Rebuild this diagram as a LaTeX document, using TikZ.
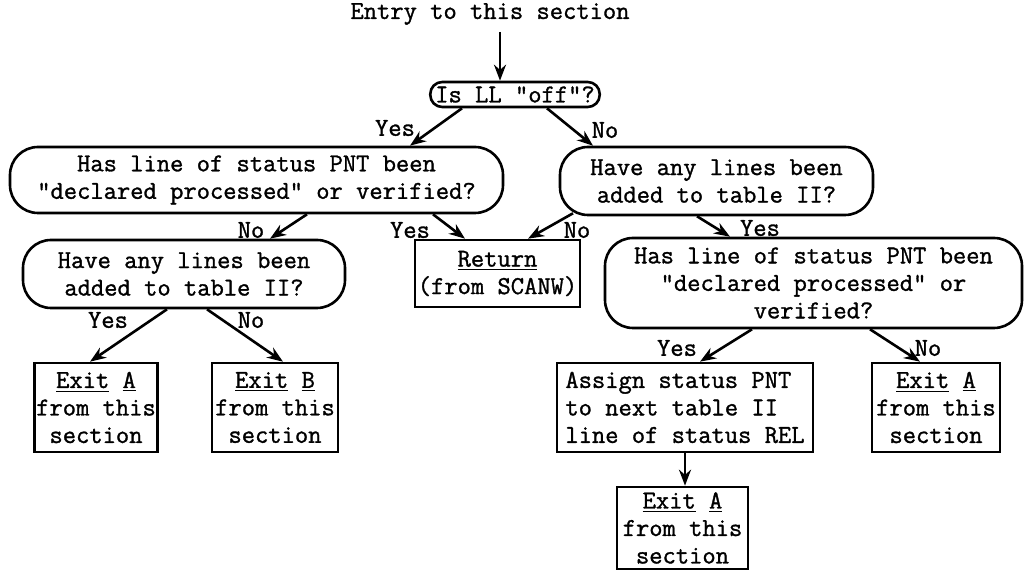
\documentclass[tikz,border=0pt]{standalone}
\usepackage{fontspec}
\usepackage{tikz}
\usetikzlibrary{arrows.meta,calc}
\newfontfamily\tw[FakeBold=1.2]{Latin Modern Mono}

\begin{document}
\begin{tikzpicture}[x=0.5pt,y=-0.5pt,
    every node/.style={font={\tw\fontsize{12.9pt}{13.75pt}\selectfont}},
    ask/.style={draw=black, line width=1.3pt, rounded corners=14pt, align=center, inner sep=1pt},
    act/.style={draw=black, line width=1.3pt, align=center, inner sep=1pt, minimum height=44.5pt},
    lbl/.style={inner sep=0pt},
    >={Stealth[length=8pt,width=6pt]}]
    \useasboundingbox (0,0) rectangle (1025,571);
    \node (entry) at (490,14) {Entry to this section};
    \node[ask, rounded corners=6pt, inner xsep=2.5pt, minimum height=12.5pt] (off) at (515,94.5) {Is LL "off"?};
    \node[ask, minimum width=246.5pt, minimum height=33pt] (pntL) at (256.5,180) {Has line of status PNT been\\"declared processed" or verified?};
    \node[ask, minimum width=156.5pt, minimum height=34pt] (addR) at (716.5,181) {Have any lines been\\added to table II?};
    \node[ask, minimum width=161pt, minimum height=34pt] (addL) at (184,274) {Have any lines been\\added to table II?};
    \node[act, minimum width=82.5pt, minimum height=33.5pt] (ret) at (497.5,273.5) {\underline{Return}\\(from SCANW)};
    \node[ask, minimum width=208.5pt, minimum height=45pt] (pntR) at (813.5,283) {Has line of status PNT been\\"declared processed" or\\verified?};
    \node[act, minimum width=61pt] (exA1) at (96,407.5) {\underline{Exit} \underline{A}\\from this\\section};
    \node[act, minimum width=63pt] (exB) at (275,407.5) {\underline{Exit} \underline{B}\\from this\\section};
    \node[act, minimum width=128pt, align=left] (asg) at (685,407.5) {Assign status PNT\\to next table II\\line of status REL};
    \node[act, minimum width=64pt] (exA2) at (936,407.5) {\underline{Exit} \underline{A}\\from this\\section};
    \node[act, minimum width=65.5pt, minimum height=41pt] (exA3) at (682.5,528) {\underline{Exit} \underline{A}\\from this\\section};
    % branch labels
    \node[lbl] (y1) at (395,128) {Yes};
    \node[lbl] (n1) at (605,130) {No};
    \node[lbl] (n2) at (251,230) {No};
    \node[lbl] (y2) at (410,230) {Yes};
    \node[lbl] (n3) at (577,230) {No};
    \node[lbl] (y3) at (760,228) {Yes};
    \node[lbl] (y4) at (108,320) {Yes};
    \node[lbl] (n4) at (251,320) {No};
    \node[lbl] (y5) at (677,348) {Yes};
    \node[lbl] (n5) at (928,348) {No};
    \path [->, line width=1.3pt] ($(entry.south)+(10,0)$) edge ($(off.north)+(-15,0)$);
    \path [->, line width=1.3pt] ($(off.south)+(-53,0)$) edge ($(pntL.north)+(153.5,0)$);
    \path [->, line width=1.3pt] ($(off.south)+(32,0)$) edge ($(addR.north)+(-123.5,0)$);
    \path [->, line width=1.3pt] ($(pntL.south)+(50.5,0)$) edge ($(addL.north)+(86,0)$);
    \path [->, line width=1.3pt] ($(pntL.south)+(176.5,0)$) edge ($(ret.north)+(-32.5,0)$);
    \path [->, line width=1.3pt] ($(addR.south)+(-143.5,-3)$) edge ($(ret.north)+(30.5,0)$);
    \path [->, line width=1.3pt] ($(addR.south)+(-19.5,0)$) edge ($(pntR.north)+(-83.5,0)$);
    \path [->, line width=1.3pt] ($(addL.south)+(-17,0)$) edge ($(exA1.north)+(-6,0)$);
    \path [->, line width=1.3pt] ($(addL.south)+(23,0)$) edge ($(exB.north)+(8,0)$);
    \path [->, line width=1.3pt] ($(pntR.south)+(-61.5,0)$) edge ($(asg.north)+(15,0)$);
    \path [->, line width=1.3pt] ($(pntR.south)+(56.5,0)$) edge ($(exA2.north)+(-16,0)$);
    \path [->, line width=1.3pt] (asg.south) edge (asg.south |- exA3.north);
\end{tikzpicture}
\end{document}
